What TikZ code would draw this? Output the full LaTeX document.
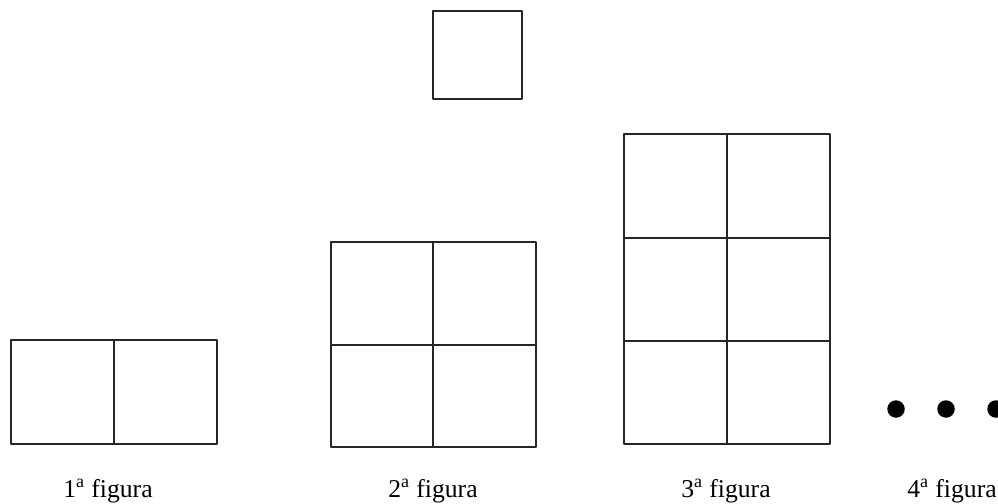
\documentclass[tikz,border=0pt]{standalone}
\usepackage{fontspec}
\setmainfont{Liberation Serif}
\usetikzlibrary{positioning}

\begin{document}
\begin{tikzpicture}[x=0.02cm,y=-0.02cm,
   cell/.style={draw=black!85,line width=1.3pt,line join=round},
   caption/.style={font=\fontsize{14.6}{17}\selectfont,anchor=base},
   dot/.style={circle,fill=black,inner sep=0pt,minimum size=0.35cm}]
  \useasboundingbox (0,0) rectangle (998,504);
  % 1a figura
  \draw[cell] (11,340) rectangle (217,444);
  \draw[cell] (114,340) -- (114,444);
  % 2a figura
  \draw[cell] (433,11) rectangle (522,99);
  \draw[cell] (331,242) rectangle (536,447);
  \draw[cell] (433,242) -- (433,447);
  \draw[cell] (331,345) -- (536,345);
  % 3a figura
  \draw[cell] (624,134) rectangle (830,444);
  \draw[cell] (727,134) -- (727,444);
  \draw[cell] (624,238) -- (830,238);
  \draw[cell] (624,341) -- (830,341);
  % reticencias
  \node[dot] (d1) at (896,409) {};
  \node[dot] (d2) at (946,409) {};
  \node[dot] (d3) at (996,409) {};
  % legendas
  \node[caption] (f1) at (108,497) {1\textsuperscript{a} figura};
  \node[caption] (f2) at (433,497) {2\textsuperscript{a} figura};
  \node[caption] (f3) at (726,497) {3\textsuperscript{a} figura};
  \node[caption] (f4) at (952,497) {4\textsuperscript{a} figura};
\end{tikzpicture}
\end{document}
